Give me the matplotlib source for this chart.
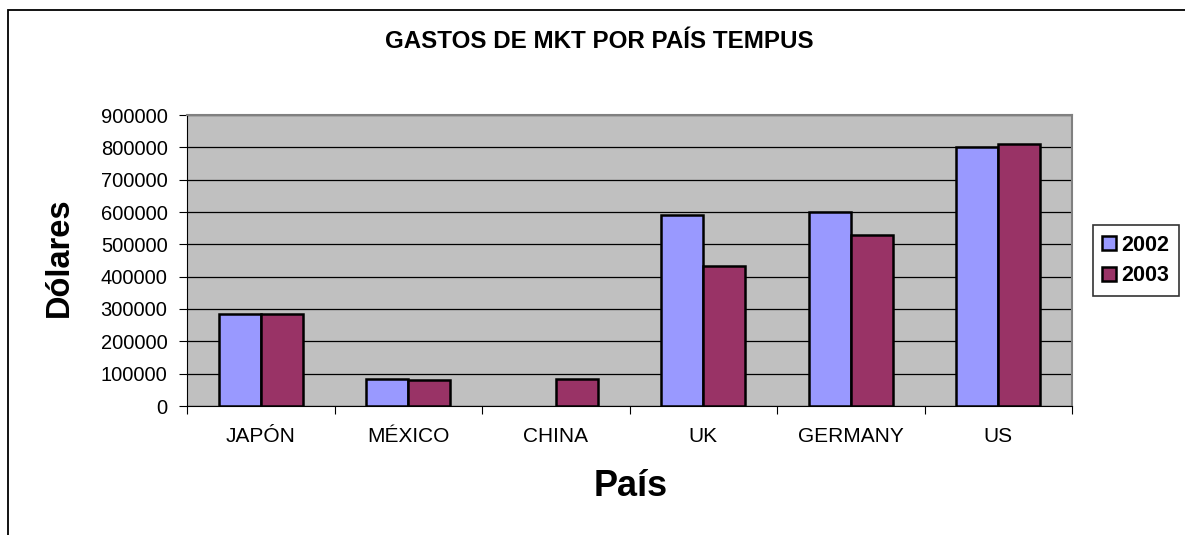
import matplotlib.pyplot as plt
import numpy as np
from matplotlib.patches import Rectangle

plt.rcParams['font.family'] = ['Liberation Sans', 'DejaVu Sans']

paises = ["JAPÓN", "MÉXICO", "CHINA", "UK", "GERMANY", "US"]
gastos_2002 = [286000, 85000, 0, 590000, 600000, 800000]
gastos_2003 = [283000, 80000, 82000, 433000, 528000, 810000]
yticks = [0, 100000, 200000, 300000, 400000, 500000, 600000, 700000, 800000, 900000]

fig = plt.figure(figsize=(11.85, 5.35), dpi=100)
ax = fig.add_axes([187/1185, 1-406/535, (1072-187)/1185, (406-115)/535])

# chart frame (left and top edges visible)
fig.patches.append(Rectangle((8/1185, -0.1), 1.2, (525/535)+0.1, transform=fig.transFigure,
                             fill=False, edgecolor='black', lw=1.3))

x = np.arange(len(paises))
w = 0.286
ax.set_facecolor('#C0C0C0')
lw02 = [0 if v == 0 else 1.8 for v in gastos_2002]
lw03 = [0 if v == 0 else 1.8 for v in gastos_2003]
ax.bar(x - w/2, gastos_2002, w, color='#9999FF', edgecolor='black', linewidth=lw02, label='2002', zorder=3)
ax.bar(x + w/2, gastos_2003, w, color='#993366', edgecolor='black', linewidth=lw03, label='2003', zorder=3)

ax.set_xlim(-0.5, len(paises) - 0.5)
ax.set_ylim(0, 900000)
ax.set_yticks(yticks)
ax.set_yticklabels([str(v) for v in yticks], fontsize=14.5)
ax.yaxis.grid(True, color='black', lw=0.9, zorder=1)
ax.set_axisbelow(True)

ax.set_xticks(np.arange(len(paises) + 1) - 0.5)
ax.set_xticklabels([])
ax.set_xticks(x, minor=True)
ax.set_xticklabels(paises, minor=True, fontsize=15)
ax.tick_params(axis='x', which='minor', length=0, pad=15)
ax.tick_params(axis='x', which='major', length=6, direction='out', color='black')
ax.tick_params(axis='y', length=6, direction='out', color='black', pad=8)

for s in ['top', 'right']:
    ax.spines[s].set_color('#808080')
    ax.spines[s].set_linewidth(1.5)
ax.spines['left'].set_color('black')
ax.spines['bottom'].set_color('black')

fig.text(599/1185, 1-42/535, "GASTOS DE MKT POR PAÍS TEMPUS", ha='center', va='center',
         fontsize=17.4, fontweight='bold')
fig.text(59/1185, 1-257/535, "Dólares", rotation=90, ha='center', va='center',
         fontsize=23.5, fontweight='bold')
fig.text(631/1185, 1-487/535, "País", ha='center', va='center', fontsize=26, fontweight='bold')

leg = fig.legend(loc='center', bbox_to_anchor=(1136/1185, 1-260.5/535),
                 prop={'weight': 'bold', 'size': 15.5}, frameon=True, fancybox=False,
                 edgecolor='black', handlelength=0.65, handleheight=0.65, handletextpad=0.25,
                 borderpad=0.45, labelspacing=0.45, borderaxespad=0)
leg.get_frame().set_linewidth(1.2)

fig.savefig("out.png", dpi=100)
